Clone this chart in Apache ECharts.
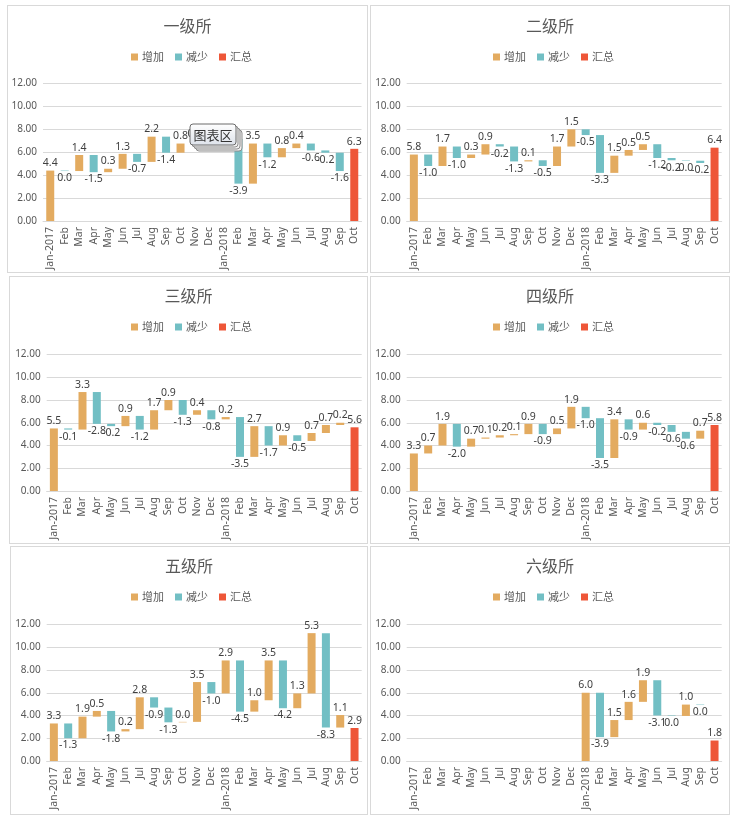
<!DOCTYPE html>
<html><head><meta charset="utf-8">
<script src="https://cdn.jsdelivr.net/npm/echarts@6/dist/echarts.min.js"></script>
<style>
html,body{margin:0;padding:0;background:#fff;width:739px;height:820px;overflow:hidden;}
.panel{position:absolute;border:1px solid #d9d9d9;box-sizing:border-box;background:#fff;}
</style></head><body>
<div id="p0" class="panel"></div>
<div id="p1" class="panel"></div>
<div id="p2" class="panel"></div>
<div id="p3" class="panel"></div>
<div id="p4" class="panel"></div>
<div id="p5" class="panel"></div>
<script>
// ---------- data ----------
const categories = ['Jan-2017','Feb','Mar','Apr','May','Jun','Jul','Aug','Sep','Oct','Nov','Dec',
  'Jan-2018','Feb','Mar','Apr','May','Jun','Jul','Aug','Sep','Oct'];
const legendNames = ['增加','减少','汇总'];
const titles = ['一级所','二级所','三级所','四级所','五级所','六级所'];
const yTicks = [0, 2, 4, 6, 8, 10, 12];
// first non-null value = opening amount, last value = 汇总 total, others = monthly change
const values1 = [4.4,-0.04,1.4,-1.5,0.3,1.3,-0.7,2.2,-1.4,0.8,0.2,0.1,0.1,-3.9,3.5,-1.2,0.8,0.4,-0.6,-0.2,-1.6,6.3];
const values2 = [5.8,-1.0,1.7,-1.0,0.3,0.9,-0.2,-1.3,0.1,-0.5,1.7,1.5,-0.5,-3.3,1.5,0.5,0.5,-1.2,-0.2,-0.04,-0.2,6.4];
const values3 = [5.5,-0.1,3.3,-2.8,-0.2,0.9,-1.2,1.7,0.9,-1.3,0.4,-0.8,0.2,-3.5,2.7,-1.7,0.9,-0.5,0.7,0.7,0.2,5.6];
const values4 = [3.3,0.7,1.9,-2.0,0.7,0.1,0.2,0.1,0.9,-0.9,0.5,1.9,-1.0,-3.5,3.4,-0.9,0.6,-0.2,-0.6,-0.6,0.7,5.8];
const values5 = [3.3,-1.3,1.9,0.5,-1.8,0.2,2.8,-0.9,-1.3,0.04,3.5,-1.0,2.9,-4.5,1.0,3.5,-4.2,1.3,5.3,-8.3,1.1,2.9];
const values6 = [null,null,null,null,null,null,null,null,null,null,null,null,6.0,-3.9,1.5,1.6,1.9,-3.1,-0.04,1.0,-0.04,1.8];
const allValues = [values1, values2, values3, values4, values5, values6];

// ---------- layout (absolute px) ----------
const layout = [
  {box:[7,5,368,273],   px:[43,361.5],   py:[83.5,221],    ty:26.7,  ly:58.5, lx:190},
  {box:[370,5,730,273], px:[406.7,721.7],py:[83.5,221],    ty:26.7,  ly:58.5, lx:552},
  {box:[9,276,368,544], px:[46.7,361.7], py:[354.5,491],   ty:296.7, ly:328.5, lx:190},
  {box:[370,276,730,544],px:[406.7,721.7],py:[354.5,491],  ty:296.7, ly:328.5, lx:552},
  {box:[10,546,368,815],px:[46.7,361.7], py:[624.5,761],   ty:566.7, ly:598.5, lx:190},
  {box:[370,546,730,815],px:[406.7,721.7],py:[624.5,761],  ty:566.7, ly:598.5, lx:552}
];
const COL_UP = '#E3AB60', COL_DN = '#72BFC4', COL_TOT = '#EE5638';
const FONT = '"Noto Sans","Noto Sans CJK SC",sans-serif';
const CJK = '"Noto Sans CJK SC","Noto Sans",sans-serif';

function fmt(v){
  const s = Math.abs(v).toFixed(1);
  if (s === '0.0') return '0.0';
  return (v < 0 ? '-' : '') + s;
}

function build(vals){
  const base=[], up=[], dn=[], tot=[];
  let first = vals.findIndex(v => v !== null);
  let last = vals.length - 1;
  let cum = 0;
  vals.forEach((v,i)=>{
    if (v === null){ base.push(null); up.push(null); dn.push(null); tot.push(null); return; }
    if (i === first){ base.push(0); up.push(v); dn.push(null); tot.push(null); cum = v; return; }
    if (i === last){ base.push(0); up.push(null); dn.push(null); tot.push(v); return; }
    if (v >= 0){ base.push(cum); up.push(v); dn.push(null); tot.push(null); cum += v; }
    else { cum += v; base.push(cum); up.push(null); dn.push(-v); tot.push(null); }
  });
  return {base, up, dn, tot};
}

layout.forEach((L, k)=>{
  const el = document.getElementById('p'+k);
  el.style.left = L.box[0]+'px'; el.style.top = L.box[1]+'px';
  el.style.width = (L.box[2]-L.box[0])+'px'; el.style.height = (L.box[3]-L.box[1])+'px';
  const ox = L.box[0]+1, oy = L.box[1]+1;
  const vals = allValues[k];
  const d = build(vals);
  const chart = echarts.init(el, null, {renderer:'canvas'});
  const lbl = (pos) => ({
    show:true, position:pos, distance:2, fontSize:10.5, color:'#404040', fontFamily:FONT,
    formatter: p => fmt(vals[p.dataIndex])
  });
  const cw = L.box[2]-L.box[0]-2;
  const legendW = 118;
  const option = {
    animation:false,
    title:{ text:titles[k], left:'center', top:L.ty-oy-9, padding:0,
      textStyle:{fontSize:16, fontWeight:'normal', color:'#595959', fontFamily:CJK}},
    legend:{ data:legendNames, left:L.lx-ox-legendW/2, top:L.ly-oy-7, padding:0, itemWidth:7, itemHeight:7, itemGap:11,
      icon:'rect', textStyle:{fontSize:11, color:'#595959', fontFamily:CJK, padding:[0,0,0,-1]}},
    grid:{ left:L.px[0]-ox, top:L.py[0]-oy, width:L.px[1]-L.px[0], height:L.py[1]-L.py[0],
      containLabel:false, outerBoundsMode:'none'},
    xAxis:{ type:'category', data:categories,
      axisTick:{show:false}, axisLine:{lineStyle:{color:'#d9d9d9'}},
      axisLabel:{rotate:90, interval:0, fontSize:10.5, color:'#595959', fontFamily:FONT, margin:6}},
    yAxis:{ type:'value', min:yTicks[0], max:yTicks[yTicks.length-1], interval:yTicks[1]-yTicks[0],
      axisLine:{show:false}, axisTick:{show:false},
      splitLine:{lineStyle:{color:'#d9d9d9'}},
      axisLabel:{fontSize:10, color:'#595959', fontFamily:FONT, margin:6, formatter:v=>v.toFixed(2)}},
    series:[
      {name:'base', type:'bar', stack:'w', data:d.base, barWidth:8, itemStyle:{color:'transparent'},
        silent:true, legendHoverLink:false},
      {name:legendNames[0], type:'bar', stack:'w', data:d.up, barWidth:8, itemStyle:{color:COL_UP}, label:lbl('top')},
      {name:legendNames[1], type:'bar', stack:'w', data:d.dn, barWidth:8, itemStyle:{color:COL_DN}, label:lbl('bottom')},
      {name:legendNames[2], type:'bar', stack:'w', data:d.tot, barWidth:8, itemStyle:{color:COL_TOT}, label:lbl('top')}
    ]
  };
  if (k === 0){
    const bx = 190-ox, by = 124-oy, bw = 46, bh = 21;
    const layer = (dx) => ({type:'rect', z:100, shape:{x:bx+dx, y:by+dx, width:bw, height:bh, r:3},
      style:{fill:'#f2f2f2', stroke:'#8c8c8c', lineWidth:1}});
    option.graphic = [
      layer(6), layer(4), layer(2),
      {type:'rect', z:101, shape:{x:bx, y:by, width:bw, height:bh, r:3},
        style:{fill:new echarts.graphic.LinearGradient(0,0,0,1,[{offset:0,color:'#ffffff'},{offset:1,color:'#dde2ea'}]),
          stroke:'#6b6b6b', lineWidth:1}},
      {type:'text', z:102, x:bx+bw/2, y:by+bh/2+0.5,
        style:{text:'图表区', fontSize:13, fontFamily:CJK, fill:'#333333', align:'center', verticalAlign:'middle'}}
    ];
  }
  chart.setOption(option);
});
</script>
</body></html>
